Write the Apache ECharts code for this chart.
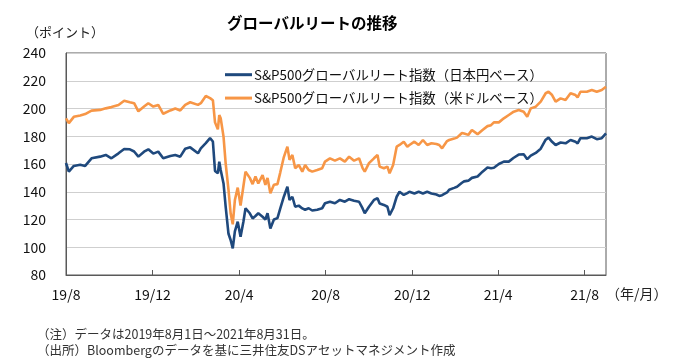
<!DOCTYPE html>
<html>
<head>
<meta charset="utf-8">
<script src="https://cdn.jsdelivr.net/npm/echarts@6/dist/echarts.min.js"></script>
<style>
html,body{margin:0;padding:0;background:#fff;}
#c{width:679px;height:363px;}
</style>
</head>
<body>
<div id="c"></div>
<script>
// Sample dates
const sampleDates = [
'2019-08-01','2019-08-05','2019-08-12','2019-08-21','2019-08-28','2019-09-06','2019-09-18','2019-09-26','2019-10-04','2019-10-14',
'2019-10-22','2019-10-30','2019-11-05','2019-11-11','2019-11-19','2019-11-25','2019-12-02','2019-12-09','2019-12-16','2019-12-26',
'2020-01-02','2020-01-09','2020-01-16','2020-01-23','2020-02-03','2020-02-07','2020-02-14','2020-02-20','2020-02-24','2020-02-27',
'2020-03-02','2020-03-04','2020-03-06','2020-03-10','2020-03-13','2020-03-17','2020-03-20','2020-03-23','2020-03-26','2020-03-30',
'2020-04-03','2020-04-07','2020-04-10','2020-04-16','2020-04-20','2020-04-24','2020-04-28','2020-05-04','2020-05-08','2020-05-11',
'2020-05-15','2020-05-20','2020-05-25','2020-05-29','2020-06-03','2020-06-08','2020-06-11','2020-06-15','2020-06-19','2020-06-24',
'2020-06-29','2020-07-03','2020-07-08','2020-07-13','2020-07-20','2020-07-27','2020-07-31','2020-08-07','2020-08-14','2020-08-21',
'2020-08-28','2020-09-03','2020-09-10','2020-09-17','2020-09-22','2020-09-25','2020-10-01','2020-10-08','2020-10-13','2020-10-16',
'2020-10-22','2020-10-27','2020-10-30','2020-11-04','2020-11-09','2020-11-13','2020-11-19','2020-11-24','2020-11-27','2020-12-04',
'2020-12-10','2020-12-16','2020-12-22','2020-12-28','2021-01-04','2021-01-08','2021-01-12','2021-01-19','2021-01-22','2021-01-29',
'2021-02-02','2021-02-09','2021-02-12','2021-02-18','2021-02-23','2021-03-03','2021-03-10','2021-03-17','2021-03-22','2021-03-26',
'2021-04-02','2021-04-09','2021-04-16','2021-04-23','2021-04-30','2021-05-07','2021-05-12','2021-05-17','2021-05-24','2021-05-31',
'2021-06-07','2021-06-11','2021-06-16','2021-06-21','2021-06-28','2021-07-05','2021-07-12','2021-07-19','2021-07-22','2021-07-26',
'2021-08-04','2021-08-11','2021-08-18','2021-08-25','2021-08-31'
];
// S&P500 Global REIT index, JPY basis
const jpyIndex = [
160.7,154.5,158.6,159.4,158.6,164.1,165.3,166.5,164.1,167.7,
170.8,170.6,169.0,165.3,168.9,170.6,167.5,168.9,164.1,165.8,
166.5,165.3,171.0,172.0,167.7,171.3,175.0,178.6,176.2,155.0,
153.3,161.7,155.7,146.0,129.2,109.7,105.2,99.2,111.5,118.4,
107.6,118.4,128.1,124.5,120.8,122.5,124.5,122.0,120.0,124.5,
113.5,120.0,121.0,128.0,136.4,143.6,134.1,136.4,129.2,130.0,
128.0,127.0,128.1,126.5,127.0,128.1,131.7,132.8,131.7,134.1,
132.8,134.6,133.5,132.8,128.0,124.5,129.2,134.1,135.3,131.5,
130.5,129.2,123.2,128.1,136.4,140.0,137.7,139.0,140.0,138.8,
140.0,138.8,140.0,138.8,138.0,137.0,137.5,139.5,141.5,142.8,
143.6,146.5,147.5,148.0,150.0,151.0,154.5,157.5,157.0,157.3,
160.0,161.7,161.7,164.5,166.8,167.0,163.5,166.0,168.0,171.0,
177.5,179.0,176.0,173.7,175.5,174.9,177.3,176.0,174.9,178.6,
178.6,179.8,177.9,178.6,182.1
];
// S&P500 Global REIT index, USD basis
const usdIndex = [
192.9,189.5,194.0,195.0,196.0,198.5,199.0,200.1,201.0,202.5,
205.6,204.5,203.8,198.0,201.4,203.8,201.4,202.6,196.2,198.6,
200.0,198.6,202.6,204.5,202.6,203.8,209.0,207.5,206.0,190.0,
185.0,195.3,193.0,179.7,160.5,141.3,124.5,116.5,134.0,143.0,
130.0,144.0,154.5,150.0,145.5,151.0,146.0,152.0,145.0,150.0,
139.0,145.0,145.5,154.0,165.0,172.5,163.0,166.5,157.0,159.3,
154.5,159.3,155.7,154.5,155.7,157.0,161.7,164.1,162.4,164.1,
161.7,165.3,162.4,164.1,157.0,154.5,160.6,164.1,166.5,158.1,
156.9,158.1,153.3,159.3,172.5,173.7,176.1,172.5,173.7,176.1,
173.7,177.3,173.7,174.9,174.4,173.7,171.3,176.5,177.3,178.3,
179.0,182.3,182.0,181.0,184.5,181.5,184.5,187.3,188.0,190.0,
190.0,192.9,195.3,197.7,198.9,197.7,194.1,200.1,201.3,204.9,
211.0,212.1,209.7,204.9,207.3,206.1,211.0,209.7,208.0,212.1,
212.1,213.3,212.1,213.3,215.7
];
const seriesNames = ['S&P500グローバルリート指数（日本円ベース）','S&P500グローバルリート指数（米ドルベース）'];
const tickMonths = [8,12,4];
const yTicks = {min:80, max:240, step:20};

// calendar-day category axis
const days = [];
{
  let d = new Date(Date.UTC(2019,7,1));
  const end = new Date(Date.UTC(2021,7,31));
  while (d <= end) { days.push(d.toISOString().slice(0,10)); d = new Date(d.getTime()+86400000); }
}
function toDaily(vals){
  const m = {}; sampleDates.forEach((s,i)=>{m[s]=vals[i];});
  return days.map(s => (s in m) ? m[s] : null);
}
function isTick(idx, val){
  const p = val.split('-');
  return p[2]==='01' && tickMonths.indexOf(parseInt(p[1],10))>=0;
}
const FONT = '"Noto Sans CJK JP", "Noto Sans", sans-serif';
const chart = echarts.init(document.getElementById('c'), null, {renderer:'canvas'});
chart.setOption({
  animation:false,
  backgroundColor:'#fff',
  textStyle:{fontFamily:FONT},
  grid:{left:66, right:73, top:53, bottom:88, show:true, borderColor:'#595959', borderWidth:1, containLabel:false},
  legend:{
    orient:'vertical', left:220, top:63, itemGap:10, itemWidth:27, itemHeight:3, icon:'rect',
    data:seriesNames,
    textStyle:{fontSize:13.4, color:'#111', fontFamily:FONT, padding:[0,0,0,-3]}
  },
  xAxis:{
    type:'category', data:days, boundaryGap:false,
    axisLine:{lineStyle:{color:'#595959', width:1}},
    axisTick:{inside:true, length:5, interval:isTick, lineStyle:{color:'#595959'}},
    axisLabel:{interval:isTick, margin:13, fontSize:14, color:'#111', fontFamily:FONT,
      formatter:function(v){const p=v.split('-');return p[0].slice(2)+'/'+parseInt(p[1],10);}},
    splitLine:{show:false}
  },
  yAxis:{
    type:'value', min:yTicks.min, max:yTicks.max, interval:yTicks.step,
    axisLine:{show:true, lineStyle:{color:'#595959'}},
    axisTick:{show:false},
    axisLabel:{fontSize:14, color:'#111', margin:20, fontFamily:FONT},
    splitLine:{lineStyle:{color:'#cfcfcf', width:1}}
  },
  series:[
    {name:seriesNames[0], type:'line', data:toDaily(jpyIndex), connectNulls:true, symbol:'none',
     lineStyle:{color:'#1f497d', width:2.6}, itemStyle:{color:'#1f497d'}},
    {name:seriesNames[1], type:'line', data:toDaily(usdIndex), connectNulls:true, symbol:'none',
     lineStyle:{color:'#f79646', width:2.6}, itemStyle:{color:'#f79646'}}
  ],
  graphic:[
    {type:'text', left:227, top:15, style:{text:'グローバルリートの推移', font:'bold 15.5px '+FONT, fill:'#000'}},
    {type:'text', left:26, top:26, style:{text:'（ポイント）', font:'13px '+FONT, fill:'#222'}},
    {type:'text', left:606, top:287, style:{text:'（年/月）', font:'14px '+FONT, fill:'#222'}},
    {type:'text', left:37, top:328, style:{text:'（注）データは2019年8月1日～2021年8月31日。', font:'12.5px '+FONT, fill:'#333'}},
    {type:'text', left:37, top:344, style:{text:'（出所）Bloombergのデータを基に三井住友DSアセットマネジメント作成', font:'12.5px '+FONT, fill:'#333'}}
  ]
});
</script>
</body>
</html>
